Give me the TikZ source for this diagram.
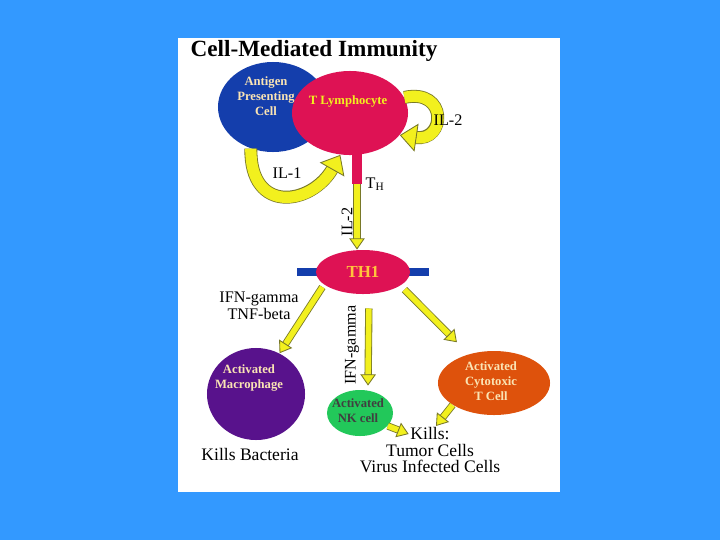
\documentclass[tikz,border=0pt]{standalone}
\usepackage{fontspec}
\setmainfont{Liberation Serif}
\usepackage{tikz}
\usetikzlibrary{positioning}
\usetikzlibrary{shapes.geometric}
\usetikzlibrary{arrows.meta}
\definecolor{bgblue}{RGB}{51,153,255}
\definecolor{apcblue}{RGB}{20,62,172}
\definecolor{lymred}{RGB}{222,18,84}
\definecolor{macpurple}{RGB}{88,18,140}
\definecolor{nkgreen}{RGB}{34,200,90}
\definecolor{ctlorange}{RGB}{222,82,12}
\definecolor{arrowyellow}{RGB}{242,240,30}
\definecolor{arrowedge}{RGB}{120,120,40}
\definecolor{cream}{RGB}{250,228,180}
\definecolor{th1text}{RGB}{255,196,60}

\begin{document}
\begin{tikzpicture}[
            x = 0.025cm, y = -0.025cm, % one unit = one pixel
            semithick
        ]

        \tikzstyle{cell}=[
            ellipse,
            draw = none,
            inner sep = 0pt
        ]
        \tikzstyle{celltext}=[font=\fontsize{9}{10.5}\selectfont\bfseries, align=center, inner sep=0pt]
        \tikzstyle{lbl}=[font=\fontsize{11.5}{12}\selectfont, inner sep=1pt, align=center]
        \tikzstyle{outcome}=[font=\fontsize{12.5}{13}\selectfont, inner sep=1pt]
        \tikzstyle{fatarrow}=[
            draw = arrowyellow, line width = 4pt,
            -{Triangle[length=8pt, width=11pt, line width=0.6pt, color=arrowedge, fill=arrowyellow]},
            preaction = {draw = arrowedge, line width = 5.2pt, -, shorten >= 7pt}
        ]
        \tikzstyle{fatcurve}=[
            draw = arrowyellow, line width = 8pt,
            -{Triangle[length=12pt, width=20pt, line width=0.6pt, color=arrowedge, fill=arrowyellow]},
            preaction = {draw = arrowedge, line width = 9.2pt, -, shorten >= 11pt}
        ]

        % slide and panel
        \fill[bgblue] (0,0) rectangle (720,540);
        \fill[white] (178,38) rectangle (560,492);
        \useasboundingbox (0,0) rectangle (720,540);

        \node (title) at (314,51) {\fontsize{16.5}{18}\selectfont\bfseries Cell-Mediated Immunity};

        % top cells
        \node[cell, fill=apcblue, minimum width=2.75cm, minimum height=2.25cm] (APC) at (273,107) {};
        \node[celltext, text=cream] (APCtext) at (266,96) {Antigen\\Presenting\\Cell};
        \node[rectangle, fill=lymred, minimum width=0.25cm, minimum height=0.9cm, inner sep=0pt] (stem) at (357,166) {};
        \node[cell, fill=lymred, minimum width=2.9cm, minimum height=2.1cm] (TL) at (350,113) {};
        \node[celltext, text=arrowyellow] (TLtext) at (348,101) {T Lymphocyte};
        \node[lbl, right=1pt of stem.south east, anchor=west] (TH) {T\textsubscript{H}};

        % cytokine loops
        \draw[fatcurve] (APC.-118) .. controls (250,215) and (312,205) .. (TL.-103);
        \node[lbl] (IL1) at (287,173) {IL-1};
        \draw[fatcurve] (TL.16) .. controls (448,88) and (446,142) .. (TL.-24);
        \node[lbl] (IL2a) at (448,120) {IL-2};

        % TH1
        \node[rectangle, fill=apcblue, minimum width=3.3cm, minimum height=0.2cm, inner sep=0pt] (bar) at (363,272) {};
        \node[cell, fill=lymred, minimum width=2.35cm, minimum height=1.1cm, text=th1text, font=\fontsize{12}{13}\selectfont\bfseries] (TH1) at (363,272) {TH1};
        \draw[fatarrow] (stem.south) -- (stem.south |- TH1.north);
        \node[lbl, rotate=90] (IL2b) at (347,222) {IL-2};

        % effector cells
        \node[cell, fill=macpurple, minimum width=2.45cm, minimum height=2.3cm] (Mac) at (256,394) {};
        \node[celltext, text=cream] (Mactext) at (249,378) {Activated\\Macrophage};
        \node[cell, fill=nkgreen, minimum width=1.65cm, minimum height=1.15cm] (NK) at (360,413) {};
        \node[celltext, text=black!75] (NKtext) at (358,411) {Activated\\NK cell};
        \node[cell, fill=ctlorange, minimum width=2.8cm, minimum height=1.6cm] (CTL) at (494,383) {};
        \node[celltext, text=cream] (CTLtext) at (491,381) {Activated\\Cytotoxic\\T Cell};

        \draw[fatarrow, shorten <=2pt] (TH1.198) -- (Mac.60);
        \node[lbl] (IFN1) at (259,306) {IFN-gamma\\TNF-beta};
        \draw[fatarrow, shorten <=10pt] ([xshift=0.15cm]TH1.south) -- ([xshift=0.2cm, yshift=0.1cm]NK.north);
        \node[lbl, rotate=90] (IFN2) at (352,345) {IFN-gamma};
        \draw[fatarrow, shorten <=4pt] (TH1.-20) -- ([shift={(-0.35cm,0.28cm)}]CTL.128);

        % outcomes
        \node[outcome, below=4pt of Mac, xshift=-0.15cm] (bact) {Kills Bacteria};
        \node[outcome] (kills1) at (430,434) {Kills:};
        \node[outcome] (kills2) at (430,450) {Tumor Cells};
        \node[outcome] (kills3) at (430,466) {Virus Infected Cells};

        \draw[fatarrow] (NK.-25) -- (kills1.west);
        \draw[fatarrow] (CTL.208) -- ([xshift=0.15cm]kills1.north);

  \end{tikzpicture}
\end{document}
